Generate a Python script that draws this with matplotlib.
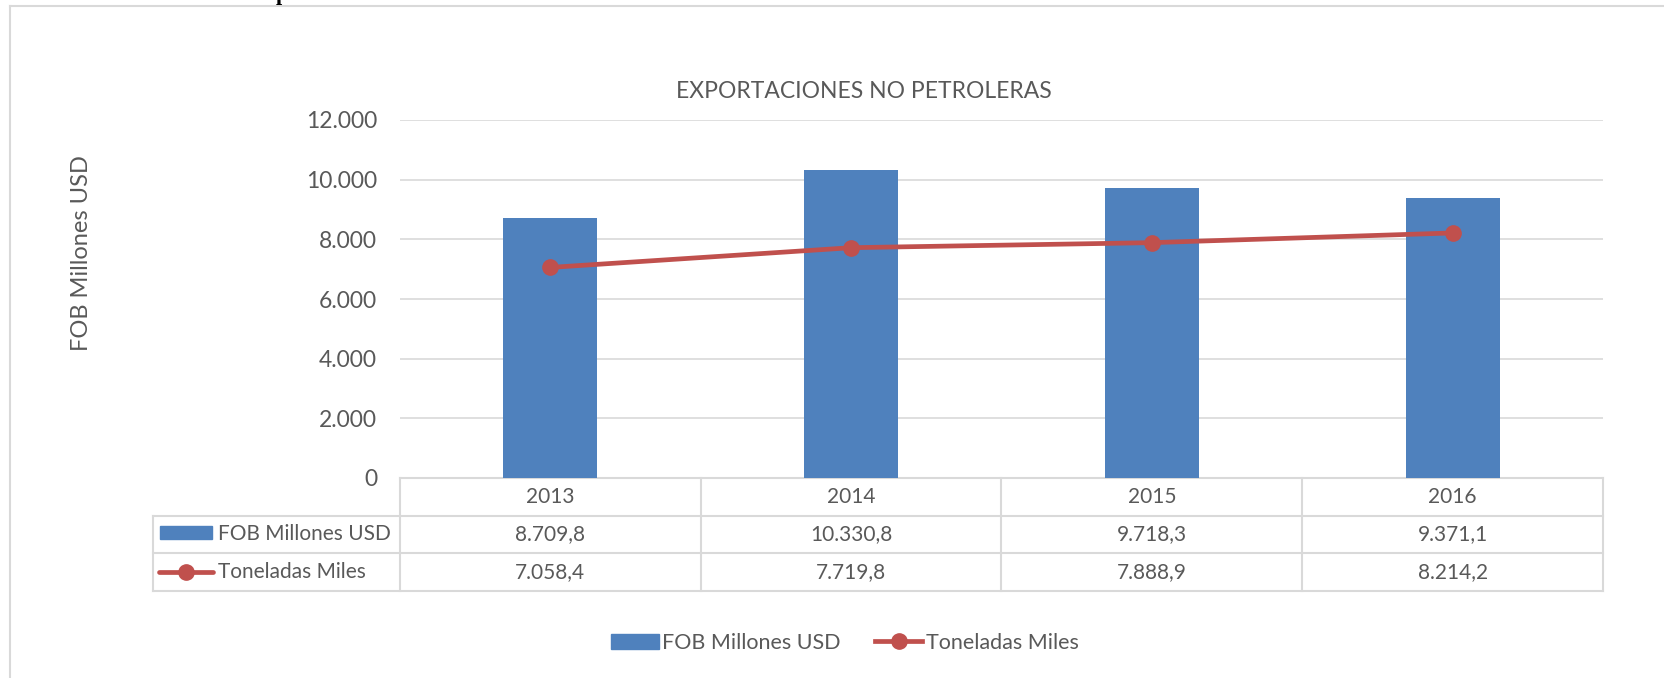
import matplotlib
matplotlib.use('Agg')
import matplotlib.pyplot as plt
from matplotlib.lines import Line2D
from matplotlib.patches import Rectangle, Patch
from matplotlib.ticker import FuncFormatter
import matplotlib.transforms as mtransforms

plt.rcParams['font.family'] = ['Lato', 'DejaVu Sans']

# datos
years = ['2013', '2014', '2015', '2016']
fob = [8709.8, 10330.8, 9718.3, 9371.1]
toneladas = [7058.4, 7719.8, 7888.9, 8214.2]
y_ticks = [0, 2000, 4000, 6000, 8000, 10000, 12000]
serie_fob = 'FOB Millones USD'
serie_ton = 'Toneladas Miles'
titulo = 'EXPORTACIONES NO PETROLERAS'

AZUL = '#4F81BD'
ROJO = '#C0504D'
GRIS = '#D9D9D9'
TEXTO = '#595959'

W, H = 1665, 678
fig = plt.figure(figsize=(W / 100, H / 100), dpi=100)


def fx(px):
    return px / W


def fy(py):
    return 1 - py / H


# marco del grafico (cortado a la derecha y abajo)
fig.add_artist(Line2D([fx(10), fx(10)], [fy(6), 0], transform=fig.transFigure, color=GRIS, lw=1.5))
fig.add_artist(Line2D([fx(10), 1], [fy(6), fy(6)], transform=fig.transFigure, color=GRIS, lw=1.5))

# resto del encabezado del documento
fig.text(fx(276), 1.0, 'p', family='Liberation Serif', weight='bold', fontsize=16,
         ha='left', va='baseline', color='black')

left, right, top, bottom = 400, 1603, 120, 478
ax = fig.add_axes([fx(left), fy(bottom), fx(right - left), (bottom - top) / H])

x = list(range(len(years)))
ax.bar(x, fob, width=0.313, color=AZUL, zorder=2)
ax.plot(x, toneladas, color=ROJO, lw=3.4, marker='o', markersize=11, zorder=3,
        solid_capstyle='round')

ax.set_xlim(-0.5, len(years) - 0.5)
ax.set_ylim(0, 12000)
ax.set_yticks(y_ticks)
ax.yaxis.set_major_formatter(FuncFormatter(lambda v, p: f'{int(v):,}'.replace(',', '.')))
ax.tick_params(axis='y', length=0, pad=16.5, labelsize=16.5, labelcolor=TEXTO)
ax.set_xticks([])
ax.grid(axis='y', color=GRIS, lw=1.2, zorder=0)
for s in ax.spines.values():
    s.set_visible(False)

fig.text(fx(864), fy(92), titulo, ha='center', va='center', fontsize=16.5, color=TEXTO)
fig.text(fx(82), fy(253), serie_fob, ha='center', va='center', rotation=90,
         fontsize=17, color=TEXTO)


def fmt(v):
    s = f'{v:,.1f}'
    return s.replace(',', '#').replace('.', ',').replace('#', '.')


# tabla de datos
row = 37.7 / (bottom - top)
trans = mtransforms.blended_transform_factory(ax.transData, ax.transAxes)
x_lab = -0.5 - (left - 153) / (right - left) * len(years)
for yy in [0, -row, -2 * row, -3 * row]:
    x0 = -0.5 if yy == 0 else x_lab
    ax.plot([x0, len(years) - 0.5], [yy, yy], transform=trans, color=GRIS, lw=1.5,
            clip_on=False, zorder=1)
for xb in [i - 0.5 for i in range(len(years) + 1)]:
    ax.plot([xb, xb], [0, -3 * row], transform=trans, color=GRIS, lw=1.5, clip_on=False)
ax.plot([x_lab, x_lab], [-row, -3 * row], transform=trans, color=GRIS, lw=1.5, clip_on=False)

for i in x:
    ax.text(i, -0.5 * row, years[i], transform=trans, ha='center', va='center',
            fontsize=15, color=TEXTO)
    ax.text(i, -1.5 * row, fmt(fob[i]), transform=trans, ha='center', va='center',
            fontsize=15, color=TEXTO)
    ax.text(i, -2.5 * row, fmt(toneladas[i]), transform=trans, ha='center', va='center',
            fontsize=15, color=TEXTO)

# claves de la tabla
fig.add_artist(Rectangle((fx(160), fy(539)), fx(52), 13 / H, transform=fig.transFigure,
                         color=AZUL))
fig.text(fx(218), fy(534), serie_fob, ha='left', va='center', fontsize=15, color=TEXTO)
fig.add_artist(Line2D([fx(159), fx(213)], [fy(572), fy(572)], transform=fig.transFigure,
                      color=ROJO, lw=3.4, solid_capstyle='round'))
fig.add_artist(Line2D([fx(186)], [fy(572)], transform=fig.transFigure, color=ROJO,
                      marker='o', markersize=11, lw=0))
fig.text(fx(218), fy(572), serie_ton, ha='left', va='center', fontsize=15, color=TEXTO)

# leyenda inferior
handles = [Patch(color=AZUL, label=serie_fob),
           Line2D([], [], color=ROJO, lw=3.4, marker='o', markersize=11, label=serie_ton)]
fig.legend(handles=handles, loc='center', bbox_to_anchor=(fx(845), fy(643)), ncol=2,
           frameon=False, fontsize=15.5, labelcolor=TEXTO, handlelength=2.2,
           handletextpad=0.15, columnspacing=1.6, numpoints=1)

fig.savefig('out.png', dpi=100)
